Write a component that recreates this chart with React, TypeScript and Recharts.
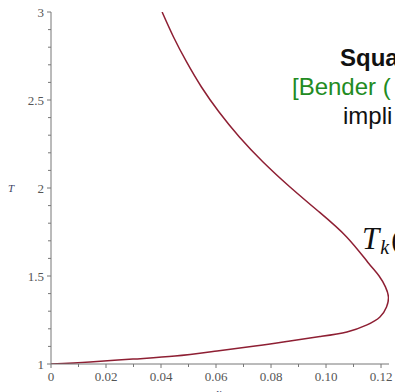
import React from "react";
import { LineChart, Line, XAxis, YAxis } from "recharts";

// curve (parametric: x as a function of T), ordered from top to bottom
const curveT = [3.0, 2.858, 2.716, 2.574, 2.432, 2.29, 2.148, 2.006, 1.864, 1.722, 1.58, 1.5, 1.438, 1.381, 1.324, 1.267, 1.222, 1.182, 1.156, 1.131, 1.102, 1.074, 1.045, 1.028, 1.011, 1.0];
const curveX = [0.0404, 0.04455, 0.0493, 0.0547, 0.0611, 0.0685, 0.0771, 0.0869, 0.0975, 0.1075, 0.1151, 0.1193, 0.1216, 0.1227, 0.122, 0.1196, 0.1149, 0.1076, 0.0978, 0.0869, 0.0742, 0.0604, 0.0451, 0.0298, 0.0142, 0.0];

const xTicks = [0, 0.01, 0.02, 0.03, 0.04, 0.05, 0.06, 0.07, 0.08, 0.09, 0.1, 0.11, 0.12];
const xMajor = [0, 0.02, 0.04, 0.06, 0.08, 0.1, 0.12];
const xMajorLabels = ["0", "0.02", "0.04", "0.06", "0.08", "0.10", "0.12"];

const yTicks = [1, 1.1, 1.2, 1.3, 1.4, 1.5, 1.6, 1.7, 1.8, 1.9, 2, 2.1, 2.2, 2.3, 2.4, 2.5, 2.6, 2.7, 2.8, 2.9, 3];
const yMajor = [1, 1.5, 2, 2.5, 3];
const yMajorLabels = ["1", "1.5", "2", "2.5", "3"];

const data = curveT.map((t, i) => ({ x: curveX[i], T: t }));

const AXIS = "#777";
const LABEL = "#555";
const FONT = "'Liberation Serif', 'Times New Roman', serif";

const near = (a: number, b: number) => Math.abs(a - b) < 1e-6;

const XTick = (props: any) => {
  const { x, y, payload } = props;
  const idx = xMajor.findIndex((m) => near(m, payload.value));
  const major = idx >= 0;
  return (
    <g>
      <line x1={x} x2={x} y1={y} y2={y + (major ? 4 : 3)} stroke={AXIS} strokeWidth={1} />
      {major && (
        <text x={x} y={y + 17} textAnchor="middle" fontFamily={FONT} fontSize={13} fill={LABEL}>
          {xMajorLabels[idx]}
        </text>
      )}
    </g>
  );
};

const YTick = (props: any) => {
  const { x, y, payload } = props;
  const idx = yMajor.findIndex((m) => near(m, payload.value));
  const major = idx >= 0;
  return (
    <g>
      <line x1={x - (major ? 4 : 3)} x2={x} y1={y} y2={y} stroke={AXIS} strokeWidth={1} />
      {major && (
        <text x={x - 7} y={y + 4.5} textAnchor="end" fontFamily={FONT} fontSize={13} fill={LABEL}>
          {yMajorLabels[idx]}
        </text>
      )}
    </g>
  );
};

export default function App() {
  return (
    <div style={{ position: "absolute", left: 0, top: 0, width: 395, height: 392, overflow: "hidden", background: "#fff" }}>
      <LineChart width={395} height={392} data={data} margin={{ top: 12, right: 6, bottom: 0, left: 0 }}>
        <XAxis
          type="number"
          dataKey="x"
          domain={[0, 0.1229]}
          ticks={xTicks}
          interval={0}
          allowDataOverflow
          height={28}
          tickSize={0}
          tickMargin={0}
          tickLine={false}
          axisLine={{ stroke: AXIS, strokeWidth: 1 }}
          tick={<XTick />}
        />
        <YAxis
          type="number"
          dataKey="T"
          domain={[1, 3]}
          ticks={yTicks}
          interval={0}
          allowDataOverflow
          width={51}
          tickSize={0}
          tickMargin={0}
          tickLine={false}
          axisLine={{ stroke: AXIS, strokeWidth: 1 }}
          tick={<YTick />}
        />
        <Line
          type="natural"
          dataKey="T"
          stroke="#8e1f33"
          strokeWidth={1.5}
          dot={false}
          isAnimationActive={false}
        />
      </LineChart>
      <svg width={395} height={392} style={{ position: "absolute", left: 0, top: 0, pointerEvents: "none" }}>
        <text x={8} y={192} fontFamily={FONT} fontStyle="italic" fontSize={11} fill="#3b3f66">T</text>
        <text x={216} y={397} fontFamily={FONT} fontStyle="italic" fontSize={12} fill="#3b3f66">x</text>
        <text x={340} y={66} fontFamily="'Liberation Sans', Arial, sans-serif" fontWeight="bold" fontSize={24} fill="#111">Squa</text>
        <text x={292} y={95} fontFamily="'Liberation Sans', Arial, sans-serif" fontSize={24} fill="#228b22">[Bender (</text>
        <text x={343} y={124} fontFamily="'Liberation Sans', Arial, sans-serif" fontSize={24} fill="#111">impli</text>
        <text x={362} y={249} fontFamily={FONT} fontStyle="italic" fontSize={31} fill="#111">
          T<tspan fontSize={20} dy={5} dx={1}>k</tspan><tspan fontStyle="normal" fontSize={28} dy={-5} dx={2}>(</tspan>
        </text>
      </svg>
    </div>
  );
}
